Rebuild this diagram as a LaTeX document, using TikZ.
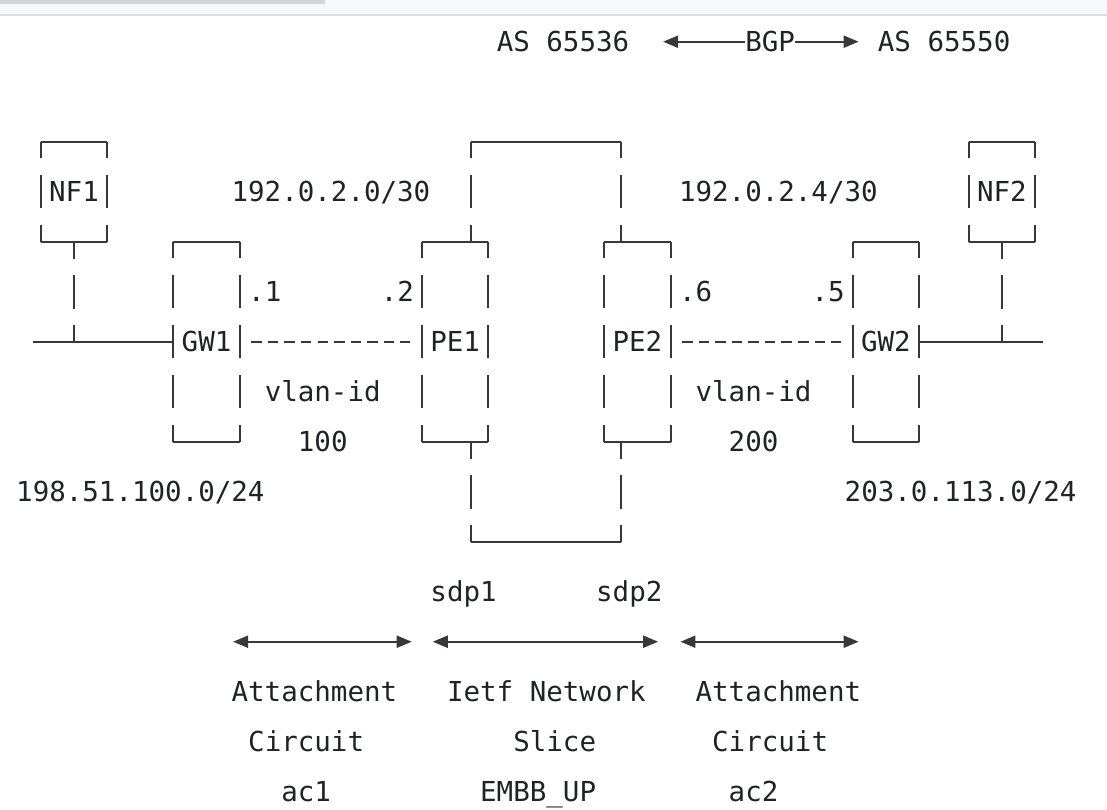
\documentclass[tikz,border=0pt]{standalone}
\usepackage{fontspec}
\setmonofont{DejaVu Sans Mono}
\usetikzlibrary{arrows.meta}
\definecolor{ink}{HTML}{1F2328}
\definecolor{rule}{HTML}{383838}
\definecolor{tabbar}{HTML}{D4D4D4}
\definecolor{tabband}{HTML}{F6F8FA}
\definecolor{tabline}{HTML}{D8DEE4}
\begin{document}
\begin{tikzpicture}[x=16.57pt,y=-50pt,
  font=\ttfamily\fontsize{27.5pt}{30pt}\selectfont,text=ink,
  lbl/.style={anchor=base west,inner sep=0pt},
  dev/.style={inner sep=0pt,minimum width=66.28pt},
  wire/.style={draw=rule,line width=2pt},
  bars/.style={wire,dash pattern=on 33.4pt off 16.6pt,dash phase=16.7pt},
  vlan/.style={wire,dash pattern=on 10.5pt off 6.07pt,shorten <=11.32pt,shorten >=11.32pt},
  tip/.style={wire,-{Triangle[length=15pt,width=12pt]}},
  reach/.style={wire,{Triangle[length=15pt,width=12pt]}-{Triangle[length=15pt,width=12pt]}}]
  \useasboundingbox (0.034,-0.834) rectangle (66.84,15.346);
  % window strip on top
  \fill[tabband] (0.034,-0.834) rectangle (66.84,-0.54);
  \fill[tabbar] (0.034,-0.834) rectangle (19.65,-0.748);
  \draw[tabline,line width=1.2pt] (0.034,-0.535) -- (66.84,-0.535);

  % BGP session
  \node[lbl] (as1) at (30,0.2) {AS 65536};
  \node[lbl] (bgp) at (45,0.2) {BGP};
  \node[lbl] (as2) at (53,0.2) {AS 65550};
  \coordinate (bgpl) at (40.05,0);
  \coordinate (bgpr) at (51.85,0);
  \draw[tip] (bgp.west |- bgpl) -- (bgpl);
  \draw[tip] (bgp.east |- bgpr) -- (bgpr);

  % devices
  \node[dev,minimum height=100pt] (nf1) at (4.5,3) {NF1};
  \node[dev,minimum height=200pt] (gw1) at (12.5,6) {GW1};
  \node[dev,minimum height=200pt] (pe1) at (27.5,6) {PE1};
  \node[dev,minimum height=200pt] (pe2) at (38.5,6) {PE2};
  \node[dev,minimum height=200pt] (gw2) at (53.5,6) {GW2};
  \node[dev,minimum height=100pt] (nf2) at (60.5,3) {NF2};
  \node[inner sep=0pt,minimum width=149.13pt,minimum height=400pt] (core) at (33,6) {};
  \foreach \n in {nf1,gw1,pe1,pe2,gw2,nf2}{
    \draw[wire] (\n.north west) -- (\n.north east) (\n.south west) -- (\n.south east);
    \draw[bars] (\n.north west) -- (\n.south west) (\n.north east) -- (\n.south east);
  }
  \draw[wire] (core.north west) -- (core.north east) (core.south west) -- (core.south east);
  \draw[bars] (core.north west) -- (core.west |- pe1.north)
    (core.north east) -- (core.east |- pe2.north)
    (core.west |- pe1.south) -- (core.south west)
    (core.east |- pe2.south) -- (core.south east);

  % LANs and links
  \coordinate (lanl) at (2,6);
  \coordinate (lanr) at (63,6);
  \draw[wire] (lanl) -- (gw1.west);
  \draw[wire] (gw2.east) -- (lanr);
  \draw[bars] (nf1.south) -- (nf1.south |- gw1.west);
  \draw[bars] (nf2.south) -- (nf2.south |- gw2.east);
  \draw[vlan] (gw1.east) -- (pe1.west);
  \draw[vlan] (pe2.east) -- (gw2.west);

  % addresses
  \node[lbl] (net1) at (14,3.2) {192.0.2.0/30};
  \node[lbl] (net2) at (41,3.2) {192.0.2.4/30};
  \node[lbl] (ip1) at (15,5.2) {.1};
  \node[lbl] (ip2) at (23,5.2) {.2};
  \node[lbl] (ip6) at (41,5.2) {.6};
  \node[lbl] (ip5) at (49,5.2) {.5};
  \node[lbl] (vid1) at (16,7.2) {vlan-id};
  \node[lbl] (vnum1) at (18,8.2) {100};
  \node[lbl] (vid2) at (42,7.2) {vlan-id};
  \node[lbl] (vnum2) at (44,8.2) {200};
  \node[lbl] (lan1) at (1,9.2) {198.51.100.0/24};
  \node[lbl] (lan2) at (51,9.2) {203.0.113.0/24};

  % service endpoints
  \node[lbl] (sdp1) at (26,11.2) {sdp1};
  \node[lbl] (sdp2) at (36,11.2) {sdp2};
  \coordinate (ac1l) at (14.1,12);
  \coordinate (ac1r) at (24.88,12);
  \coordinate (nsl) at (26.15,12);
  \coordinate (nsr) at (39.75,12);
  \coordinate (ac2l) at (41.1,12);
  \coordinate (ac2r) at (51.85,12);
  \draw[reach] (ac1l) -- (ac1r);
  \draw[reach] (nsl) -- (nsr);
  \draw[reach] (ac2l) -- (ac2r);
  \node[lbl] (ac1a) at (14,13.2) {Attachment};
  \node[lbl] (ac1b) at (15,14.2) {Circuit};
  \node[lbl] (ac1c) at (17,15.2) {ac1};
  \node[lbl] (nsa) at (27,13.2) {Ietf Network};
  \node[lbl] (nsb) at (31,14.2) {Slice};
  \node[lbl] (nsc) at (29,15.2) {EMBB\_UP};
  \node[lbl] (ac2a) at (42,13.2) {Attachment};
  \node[lbl] (ac2b) at (43,14.2) {Circuit};
  \node[lbl] (ac2c) at (44,15.2) {ac2};
\end{tikzpicture}
\end{document}
